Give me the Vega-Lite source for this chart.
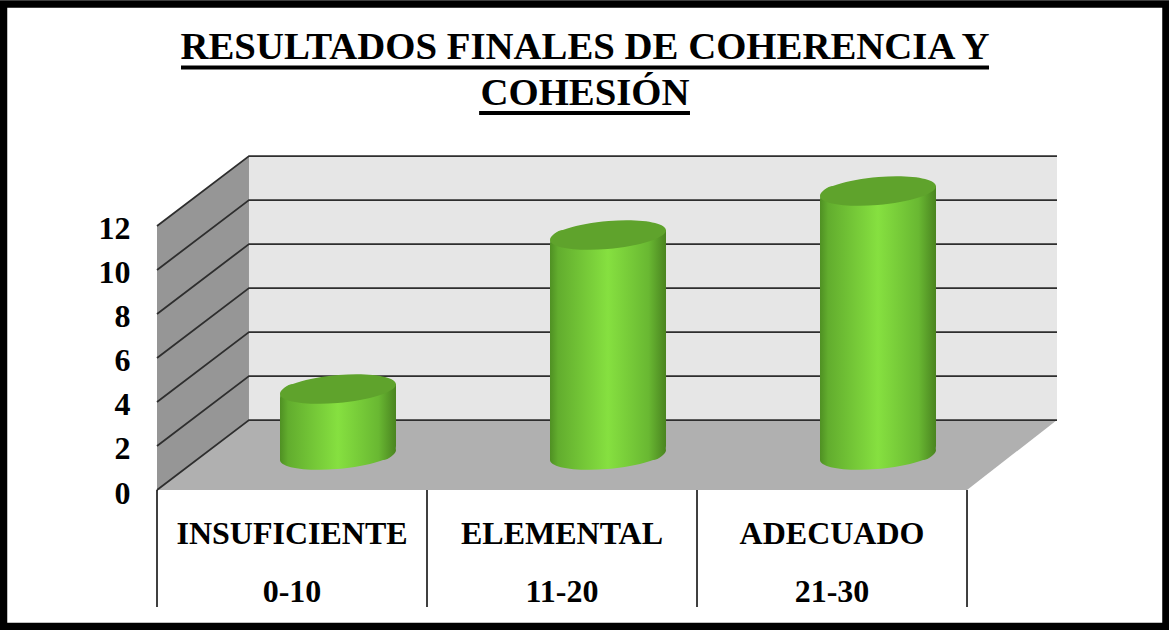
{
"$schema":"https://vega.github.io/schema/vega-lite/v6.json",
"width":900,"height":334,
"autosize":{"type":"none"},
"padding":{"left":157,"top":156,"right":112,"bottom":140},
"background":"white",
"config":{"view":{"stroke":null},"scale":{"continuousPadding":0}},
"title":{"text":["RESULTADOS FINALES DE COHERENCIA Y","COHESIÓN"],"font":"Liberation Serif","fontSize":38.8,"fontWeight":"bold","color":"black","anchor":"middle","frame":"group","dx":-22,"offset":-113,"lineHeight":46},
"resolve":{"axis":{"y":"independent"}},
"datasets":{
"results":[
{"category":"INSUFICIENTE","range":"0-10","pos":0.5,"value":3},
{"category":"ELEMENTAL","range":"11-20","pos":1.5,"value":10},
{"category":"ADECUADO","range":"21-30","pos":2.5,"value":12}],
"side":[{"x":0,"low":0,"high":12},{"x":0.3407,"low":3.18,"high":15.18}],
"floor":[{"x":0,"low":0,"high":0},{"x":0.3407,"low":0,"high":3.18},{"x":3,"low":0,"high":3.18},{"x":3.3333,"low":3.18,"high":3.18}],
"grid":[
{"level":0,"x":0,"y":0},{"level":0,"x":0.3407,"y":3.18},{"level":0,"x":3.3333,"y":3.18},
{"level":2,"x":0,"y":2},{"level":2,"x":0.3407,"y":5.18},{"level":2,"x":3.3333,"y":5.18},
{"level":4,"x":0,"y":4},{"level":4,"x":0.3407,"y":7.18},{"level":4,"x":3.3333,"y":7.18},
{"level":6,"x":0,"y":6},{"level":6,"x":0.3407,"y":9.18},{"level":6,"x":3.3333,"y":9.18},
{"level":8,"x":0,"y":8},{"level":8,"x":0.3407,"y":11.18},{"level":8,"x":3.3333,"y":11.18},
{"level":10,"x":0,"y":10},{"level":10,"x":0.3407,"y":13.18},{"level":10,"x":3.3333,"y":13.18},
{"level":12,"x":0,"y":12},{"level":12,"x":0.3407,"y":15.18},{"level":12,"x":3.3333,"y":15.18}],
"separators":[{"x":0},{"x":1},{"x":2},{"x":3}],
"underlines":[{"x0":0.0889,"x1":3.0815,"y":19.2},{"x0":1.193,"x1":1.974,"y":17.14}]
},
"layer":[
{"data":{"values":[{"x0":-0.5685,"x1":3.737,"y0":-6.2,"y1":22.09}]},
 "mark":{"type":"rect","fill":"transparent","stroke":"black","strokeWidth":7.5},
 "encoding":{"x":{"field":"x0","type":"quantitative","scale":{"domain":[0,3.3333],"nice":false,"zero":false},"axis":null},"x2":{"field":"x1"},
 "y":{"field":"y0","type":"quantitative","scale":{"domain":[0,15.1818],"nice":false,"zero":false},"axis":null},"y2":{"field":"y1"}}},
{"data":{"name":"side"},"mark":{"type":"area","color":"#969696"},
 "encoding":{"x":{"field":"x","type":"quantitative","scale":{"domain":[0,3.3333],"nice":false,"zero":false},"axis":null},
 "y":{"field":"low","type":"quantitative","scale":{"domain":[0,15.1818],"nice":false,"zero":false},"axis":null},"y2":{"field":"high"}}},
{"data":{"name":"floor"},"mark":{"type":"area","color":"#b0b0b0"},
 "encoding":{"x":{"field":"x","type":"quantitative","scale":{"domain":[0,3.3333],"nice":false,"zero":false},"axis":null},
 "y":{"field":"low","type":"quantitative","scale":{"domain":[0,15.1818],"nice":false,"zero":false},"axis":null},"y2":{"field":"high"}}},
{"data":{"values":[{"x0":0.3407,"x1":3.3333,"y0":3.18,"y1":15.18}]},"mark":{"type":"rect","color":"#e6e6e6"},
 "encoding":{"x":{"field":"x0","type":"quantitative","scale":{"domain":[0,3.3333],"nice":false,"zero":false},"axis":null},"x2":{"field":"x1"},
 "y":{"field":"y0","type":"quantitative","scale":{"domain":[0,15.1818],"nice":false,"zero":false},"axis":null},"y2":{"field":"y1"}}},
{"data":{"name":"grid"},"mark":{"type":"line","color":"#2e2e2e","strokeWidth":1.8},
 "encoding":{"x":{"field":"x","type":"quantitative","scale":{"domain":[0,3.3333],"nice":false,"zero":false},"axis":null},
 "y":{"field":"y","type":"quantitative","scale":{"domain":[0,15.1818],"nice":false,"zero":false},
 "axis":{"orient":"left","values":[0,2,4,6,8,10,12],"title":null,"domain":false,"ticks":false,"grid":false,"zindex":1,"labelFont":"Liberation Serif","labelFontSize":32,"labelFontWeight":"bold","labelColor":"black","labelPadding":27,"labelOffset":3}},
 "detail":{"field":"level"},"order":{"field":"x"}}},
{"data":{"name":"separators"},"mark":{"type":"rule","color":"black","strokeWidth":1.5},
 "encoding":{"x":{"field":"x","type":"quantitative","scale":{"domain":[0,3.3333],"nice":false,"zero":false},"axis":null},
 "y":{"datum":0,"type":"quantitative","scale":{"domain":[0,15.1818],"nice":false,"zero":false},"axis":null},"y2":{"datum":-5.32}}},
{"data":{"name":"results"},"mark":{"type":"point","filled":true,"opacity":1,"xOffset":46,"yOffset":-35,"size":13456,
 "shape":"M-1,0.08 A1,0.24 -5 1 0 1,-0.08 A1,0.24 -5 1 0 -1,0.08 Z",
 "fill":{"x1":0,"y1":0,"x2":1,"y2":0,"gradient":"linear","stops":[{"offset":0,"color":"#4f9023"},{"offset":0.07,"color":"#62ad2e"},{"offset":0.5,"color":"#86e040"},{"offset":0.85,"color":"#69b832"},{"offset":1,"color":"#4a8420"}]}},
 "encoding":{"x":{"field":"pos","type":"quantitative","scale":{"domain":[0,3.3333],"nice":false,"zero":false},"axis":null},
 "y":{"datum":0,"type":"quantitative","scale":{"domain":[0,15.1818],"nice":false,"zero":false},"axis":null}}},
{"data":{"name":"results"},"mark":{"type":"bar","orient":"vertical","width":116,"xOffset":46,"yOffset":-40,"y2Offset":-30,"cornerRadiusTopLeft":14,"cornerRadiusBottomRight":14,
 "fill":{"x1":0,"y1":0,"x2":1,"y2":0,"gradient":"linear","stops":[{"offset":0,"color":"#4f9023"},{"offset":0.07,"color":"#62ad2e"},{"offset":0.5,"color":"#86e040"},{"offset":0.85,"color":"#69b832"},{"offset":1,"color":"#4a8420"}]}},
 "encoding":{"x":{"field":"pos","type":"quantitative","scale":{"domain":[0,3.3333],"nice":false,"zero":false},"axis":null},
 "y":{"field":"value","type":"quantitative","scale":{"domain":[0,15.1818],"nice":false,"zero":false},"axis":null},"y2":{"datum":0}}},
{"data":{"name":"results"},"mark":{"type":"point","filled":true,"opacity":1,"xOffset":46,"yOffset":-35,"size":13456,"color":"#5fa32c",
 "shape":"M-1,0.08 A1,0.24 -5 1 0 1,-0.08 A1,0.24 -5 1 0 -1,0.08 Z"},
 "encoding":{"x":{"field":"pos","type":"quantitative","scale":{"domain":[0,3.3333],"nice":false,"zero":false},"axis":null},
 "y":{"field":"value","type":"quantitative","scale":{"domain":[0,15.1818],"nice":false,"zero":false},"axis":null}}},
{"data":{"name":"results"},"mark":{"type":"text","font":"Liberation Serif","fontSize":32,"fontWeight":"bold","color":"black","baseline":"middle","yOffset":44},
 "encoding":{"x":{"field":"pos","type":"quantitative","scale":{"domain":[0,3.3333],"nice":false,"zero":false},"axis":null},
 "y":{"datum":0,"type":"quantitative","scale":{"domain":[0,15.1818],"nice":false,"zero":false},"axis":null},"text":{"field":"category"}}},
{"data":{"name":"results"},"mark":{"type":"text","font":"Liberation Serif","fontSize":32,"fontWeight":"bold","color":"black","baseline":"middle","yOffset":102},
 "encoding":{"x":{"field":"pos","type":"quantitative","scale":{"domain":[0,3.3333],"nice":false,"zero":false},"axis":null},
 "y":{"datum":0,"type":"quantitative","scale":{"domain":[0,15.1818],"nice":false,"zero":false},"axis":null},"text":{"field":"range"}}},
{"data":{"name":"underlines"},"mark":{"type":"rule","color":"black","strokeWidth":4},
 "encoding":{"x":{"field":"x0","type":"quantitative","scale":{"domain":[0,3.3333],"nice":false,"zero":false},"axis":null},"x2":{"field":"x1"},
 "y":{"field":"y","type":"quantitative","scale":{"domain":[0,15.1818],"nice":false,"zero":false},"axis":null}}}
]
}
